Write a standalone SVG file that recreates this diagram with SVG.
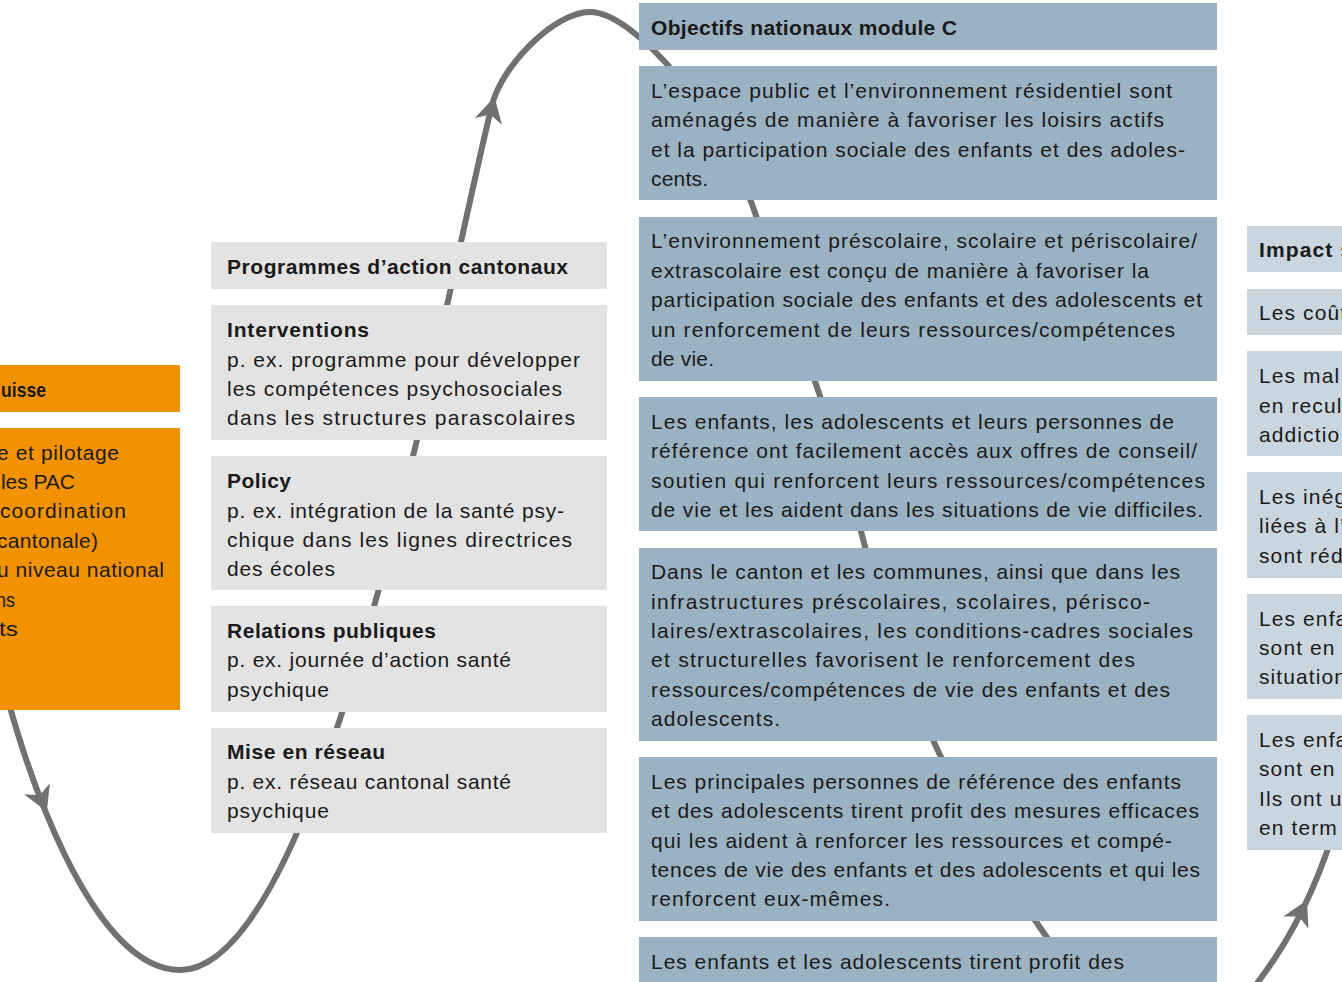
<svg xmlns="http://www.w3.org/2000/svg" width="1342" height="982" viewBox="0 0 1342 982">
<style>
text{font-family:"Liberation Sans",Arial,sans-serif;font-size:21px;fill:#1a1a1a}
.b{font-weight:bold}
.og{fill:#F39200}
.gr{fill:#E3E3E3}
.bl{fill:#9BB2C2}
.lb{fill:#C9D6DF}
.ls{letter-spacing:1.1px}
.curve{fill:none;stroke:#717171;stroke-width:6}
.ah{fill:#717171}
</style>
<defs>
<path id="arrow" d="M2,0 L-23,-14 L-16,0 L-23,14 Z"/>
</defs>
<rect width="1342" height="982" fill="#ffffff"/>
<g id="connectors">
<path class="curve" d="M 3,680 C 22,760 90,970 180,970 C 280,970 367,648 415,448 C 437,355 478,160 492,105 C 502,65 555,12 590,12 C 635,12 723,117 753,207 C 791.5,317 835.5,429 863,539 C 895.5,669 950,799 1041,929 C 1076,979 1120,1045 1170,1045 C 1215,1045 1250,995 1275,958 C 1300,920 1322,875 1340,810 L 1360,740"/>
<use href="#arrow" class="ah" transform="translate(46,810) rotate(67)"/>
<use href="#arrow" class="ah" transform="translate(494,99) rotate(-76)"/>
<use href="#arrow" class="ah" transform="translate(1306,902) rotate(-64)"/>
</g>
<g id="node-suisse-header">
<rect class="og" x="0" y="365" width="180" height="47"/>
<text class="b" x="1" y="397" textLength="45" lengthAdjust="spacingAndGlyphs">uisse</text>
</g>
<g id="node-suisse-body">
<rect class="og" x="0" y="428" width="180" height="282"/>
<text x="-3" y="460" textLength="122" lengthAdjust="spacing">e et pilotage</text>
<text x="1" y="489" textLength="74" lengthAdjust="spacing">les PAC</text>
<text x="0" y="518" textLength="126" lengthAdjust="spacing">coordination</text>
<text x="-3" y="548" textLength="101" lengthAdjust="spacing">cantonale)</text>
<text x="-3" y="577" textLength="167" lengthAdjust="spacing">u niveau national</text>
<text x="-4" y="607" textLength="19" lengthAdjust="spacingAndGlyphs">ns</text>
<text x="-1" y="636" textLength="19" lengthAdjust="spacingAndGlyphs">ts</text>
</g>
<g id="node-pac-header">
<rect class="gr" x="211" y="242" width="396" height="47"/>
<text class="b" x="227" y="274" textLength="341" lengthAdjust="spacing">Programmes d’action cantonaux</text>
</g>
<g id="node-interventions">
<rect class="gr" x="211" y="305" width="396" height="135"/>
<text class="b" x="227" y="337" textLength="142" lengthAdjust="spacing">Interventions</text>
<text x="227" y="367" textLength="353" lengthAdjust="spacing">p. ex. programme pour développer</text>
<text x="227" y="396" textLength="335" lengthAdjust="spacing">les compétences psychosociales</text>
<text x="227" y="425" textLength="348" lengthAdjust="spacing">dans les structures parascolaires</text>
</g>
<g id="node-policy">
<rect class="gr" x="211" y="456" width="396" height="134"/>
<text class="b" x="227" y="488" textLength="64" lengthAdjust="spacing">Policy</text>
<text x="227" y="518" textLength="337" lengthAdjust="spacing">p. ex. intégration de la santé psy-</text>
<text x="227" y="547" textLength="345" lengthAdjust="spacing">chique dans les lignes directrices</text>
<text x="227" y="576" textLength="108" lengthAdjust="spacing">des écoles</text>
</g>
<g id="node-relations">
<rect class="gr" x="211" y="606" width="396" height="106"/>
<text class="b" x="227" y="638" textLength="209" lengthAdjust="spacing">Relations publiques</text>
<text x="227" y="667" textLength="284" lengthAdjust="spacing">p. ex. journée d’action santé</text>
<text x="227" y="697" textLength="102" lengthAdjust="spacing">psychique</text>
</g>
<g id="node-reseau">
<rect class="gr" x="211" y="728" width="396" height="105"/>
<text class="b" x="227" y="759" textLength="158" lengthAdjust="spacing">Mise en réseau</text>
<text x="227" y="789" textLength="284" lengthAdjust="spacing">p. ex. réseau cantonal santé</text>
<text x="227" y="818" textLength="102" lengthAdjust="spacing">psychique</text>
</g>
<g id="node-objectifs-header">
<rect class="bl" x="639" y="3" width="578" height="47"/>
<text class="b" x="651" y="35" textLength="306" lengthAdjust="spacing">Objectifs nationaux module C</text>
</g>
<g id="node-obj1">
<rect class="bl" x="639" y="66" width="578" height="134"/>
<text x="651" y="98" textLength="521" lengthAdjust="spacing">L’espace public et l’environnement résidentiel sont</text>
<text x="651" y="127" textLength="513" lengthAdjust="spacing">aménagés de manière à favoriser les loisirs actifs</text>
<text x="651" y="157" textLength="534" lengthAdjust="spacing">et la participation sociale des enfants et des adoles-</text>
<text x="651" y="186" textLength="57" lengthAdjust="spacing">cents.</text>
</g>
<g id="node-obj2">
<rect class="bl" x="639" y="217" width="578" height="164"/>
<text x="651" y="248" textLength="546" lengthAdjust="spacing">L’environnement préscolaire, scolaire et périscolaire/</text>
<text x="651" y="278" textLength="498" lengthAdjust="spacing">extrascolaire est conçu de manière à favoriser la</text>
<text x="651" y="307" textLength="551" lengthAdjust="spacing">participation sociale des enfants et des adolescents et</text>
<text x="651" y="337" textLength="524" lengthAdjust="spacing">un renforcement de leurs ressources/compétences</text>
<text x="651" y="366" textLength="63" lengthAdjust="spacing">de vie.</text>
</g>
<g id="node-obj3">
<rect class="bl" x="639" y="397" width="578" height="134"/>
<text x="651" y="429" textLength="523" lengthAdjust="spacing">Les enfants, les adolescents et leurs personnes de</text>
<text x="651" y="458" textLength="546" lengthAdjust="spacing">référence ont facilement accès aux offres de conseil/</text>
<text x="651" y="488" textLength="554" lengthAdjust="spacing">soutien qui renforcent leurs ressources/compétences</text>
<text x="651" y="517" textLength="552" lengthAdjust="spacing">de vie et les aident dans les situations de vie difficiles.</text>
</g>
<g id="node-obj4">
<rect class="bl" x="639" y="548" width="578" height="193"/>
<text x="651" y="579" textLength="529" lengthAdjust="spacing">Dans le canton et les communes, ainsi que dans les</text>
<text x="651" y="609" textLength="499" lengthAdjust="spacing">infrastructures préscolaires, scolaires, périsco-</text>
<text x="651" y="638" textLength="542" lengthAdjust="spacing">laires/extrascolaires, les conditions-cadres sociales</text>
<text x="651" y="667" textLength="484" lengthAdjust="spacing">et structurelles favorisent le renforcement des</text>
<text x="651" y="697" textLength="519" lengthAdjust="spacing">ressources/compétences de vie des enfants et des</text>
<text x="651" y="726" textLength="129" lengthAdjust="spacing">adolescents.</text>
</g>
<g id="node-obj5">
<rect class="bl" x="639" y="757" width="578" height="164"/>
<text x="651" y="789" textLength="530" lengthAdjust="spacing">Les principales personnes de référence des enfants</text>
<text x="651" y="818" textLength="548" lengthAdjust="spacing">et des adolescents tirent profit des mesures efficaces</text>
<text x="651" y="848" textLength="521" lengthAdjust="spacing">qui les aident à renforcer les ressources et compé-</text>
<text x="651" y="877" textLength="549" lengthAdjust="spacing">tences de vie des enfants et des adolescents et qui les</text>
<text x="651" y="906" textLength="239" lengthAdjust="spacing">renforcent eux-mêmes.</text>
</g>
<g id="node-obj6">
<rect class="bl" x="639" y="937" width="578" height="60"/>
<text x="651" y="969" textLength="473" lengthAdjust="spacing">Les enfants et les adolescents tirent profit des</text>
</g>
<g id="node-impact-header">
<rect class="lb" x="1247" y="226" width="110" height="46"/>
<text class="b ls" x="1259" y="257">Impact s</text>
</g>
<g id="node-impact1">
<rect class="lb" x="1247" y="289" width="110" height="46"/>
<text class="ls" x="1259" y="320">Les coût</text>
</g>
<g id="node-impact2">
<rect class="lb" x="1247" y="351" width="110" height="105"/>
<text class="ls"><tspan x="1259" y="383">Les mal</tspan><tspan x="1259" y="413">en recul</tspan><tspan x="1259" y="442">addictio</tspan></text>
</g>
<g id="node-impact3">
<rect class="lb" x="1247" y="472" width="110" height="106"/>
<text class="ls"><tspan x="1259" y="504">Les inég</tspan><tspan x="1259" y="533">liées à l’</tspan><tspan x="1259" y="563">sont réd</tspan></text>
</g>
<g id="node-impact4">
<rect class="lb" x="1247" y="594" width="110" height="105"/>
<text class="ls"><tspan x="1259" y="626">Les enfa</tspan><tspan x="1259" y="655">sont en r</tspan><tspan x="1259" y="684">situation</tspan></text>
</g>
<g id="node-impact5">
<rect class="lb" x="1247" y="715" width="110" height="135"/>
<text class="ls"><tspan x="1259" y="747">Les enfa</tspan><tspan x="1259" y="776">sont en l</tspan><tspan x="1259" y="806">Ils ont u</tspan><tspan x="1259" y="835">en term</tspan></text>
</g>
</svg>
